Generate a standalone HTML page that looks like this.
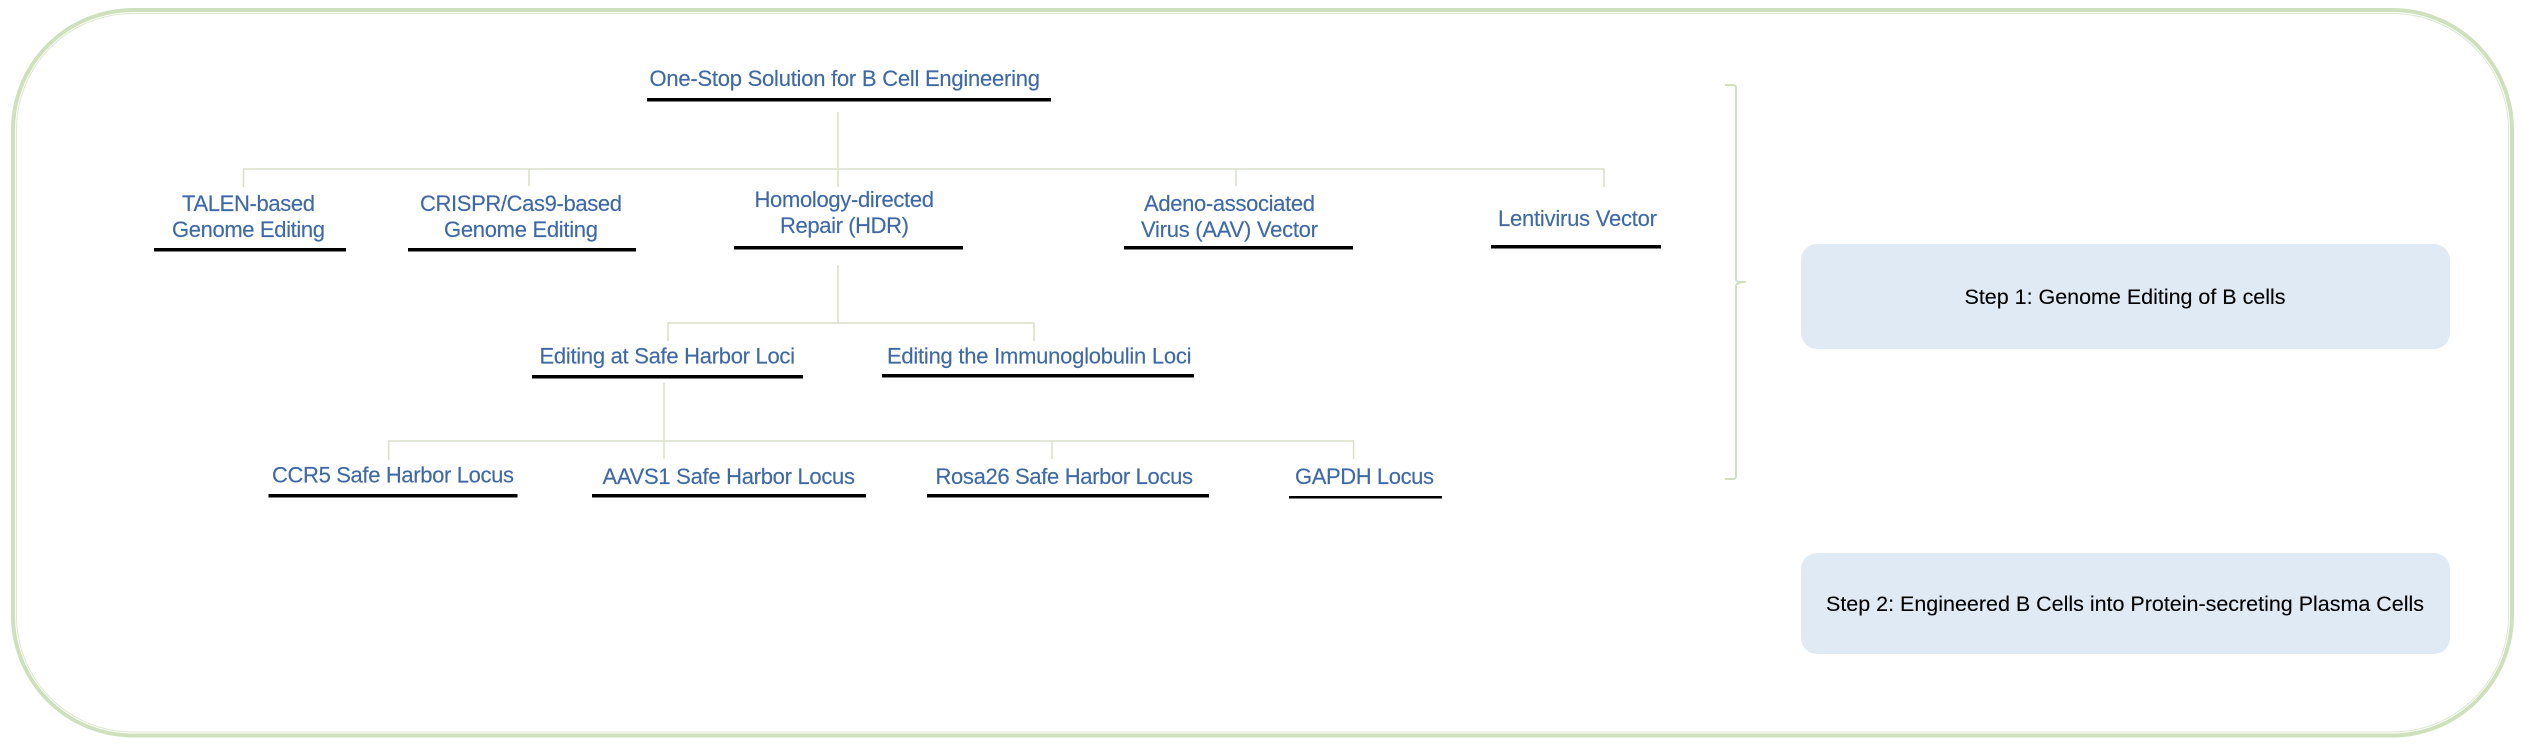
<!DOCTYPE html>
<html><head><meta charset="utf-8"><style>
html,body{margin:0;padding:0;background:#fff;width:2532px;height:756px;overflow:hidden}
svg{display:block}
text{font-family:"Liberation Sans",Arial,sans-serif;font-size:22px}
.b{fill:#3f69a5;stroke:#3f69a5;stroke-width:.15}
.k{fill:#000;stroke:#000;stroke-width:.1}
.c{stroke:#d9dfc8;stroke-width:1.5;fill:none}
</style></head><body>
<svg width="2532" height="756" viewBox="0 0 2532 756" xmlns="http://www.w3.org/2000/svg">
<rect x="13" y="10" width="2499" height="725.5" rx="120" ry="120" fill="none" stroke="#cfe0bd" stroke-width="4"/>
<rect x="16.5" y="13.5" width="2492" height="718.5" rx="116" ry="116" fill="none" stroke="#dce8d0" stroke-width="1"/>

<!-- connectors -->
<path class="c" d="M838 112V187M243.5 187V169H1604V187M529 169V186M1236 169V186"/>
<path class="c" d="M838 265V323M668 341V323H1034V341"/>
<path class="c" d="M664 383V459M388.700 460V441H1353.600V459M1052 441V459"/>

<!-- bracket -->
<path d="M1725 85H1733Q1736 85 1736 88V279Q1736 282 1739 282H1746Q1739 282 1736 285V476Q1736 479 1733 479H1725" fill="none" stroke="#d3dfc3" stroke-width="2"/>

<!-- underlines -->
<g fill="#000">
<rect x="647" y="98" width="404" height="3.500"/>
<rect x="154" y="248" width="192" height="3.500"/>
<rect x="408" y="248" width="228" height="3.500"/>
<rect x="734" y="246" width="229" height="3.500"/>
<rect x="1124" y="246" width="229" height="3.500"/>
<rect x="1491" y="245" width="170" height="3.500"/>
<rect x="532" y="375" width="271" height="3.500"/>
<rect x="882" y="374" width="312" height="3.500"/>
<rect x="268.500" y="494" width="249" height="3.500"/>
<rect x="592" y="494" width="274" height="3.500"/>
<rect x="927" y="494" width="282" height="3.500"/>
<rect x="1289" y="496" width="153" height="2.500"/>
</g>

<!-- labels -->
<text class="b" x="649.500" y="86" textLength="390.500">One-Stop Solution for B Cell Engineering</text>
<text class="b" x="182" y="211" textLength="133">TALEN-based</text>
<text class="b" x="172" y="237" textLength="153">Genome Editing</text>
<text class="b" x="420" y="211" textLength="202">CRISPR/Cas9-based</text>
<text class="b" x="444" y="237" textLength="154">Genome Editing</text>
<text class="b" x="754.500" y="207" textLength="179.500">Homology-directed</text>
<text class="b" x="780" y="233" textLength="129">Repair (HDR)</text>
<text class="b" x="1144" y="211" textLength="171">Adeno-associated</text>
<text class="b" x="1141" y="237" textLength="177">Virus (AAV) Vector</text>
<text class="b" x="1498" y="226" textLength="159">Lentivirus Vector</text>
<text class="b" x="539.500" y="363.500" textLength="255.500">Editing at Safe Harbor Loci</text>
<text class="b" x="887" y="363.500" textLength="304.500">Editing the Immunoglobulin Loci</text>
<text class="b" x="272" y="482.500" textLength="242">CCR5 Safe Harbor Locus</text>
<text class="b" x="602.500" y="484" textLength="252.500">AAVS1 Safe Harbor Locus</text>
<text class="b" x="935.500" y="484" textLength="257.500">Rosa26 Safe Harbor Locus</text>
<text class="b" x="1295" y="484" textLength="139">GAPDH Locus</text>

<!-- step boxes -->
<rect x="1801" y="244" width="649" height="105" rx="16" ry="16" fill="#e0eaf5"/>
<rect x="1801" y="553" width="649" height="101" rx="16" ry="16" fill="#e0eaf5"/>
<text class="k" x="1964.500" y="304" textLength="321" style="font-size:21.5px">Step 1: Genome Editing of B cells</text>
<text class="k" x="1826" y="611" textLength="598" style="font-size:21.5px">Step 2: Engineered B Cells into Protein-secreting Plasma Cells</text>
</svg>
</body></html>
